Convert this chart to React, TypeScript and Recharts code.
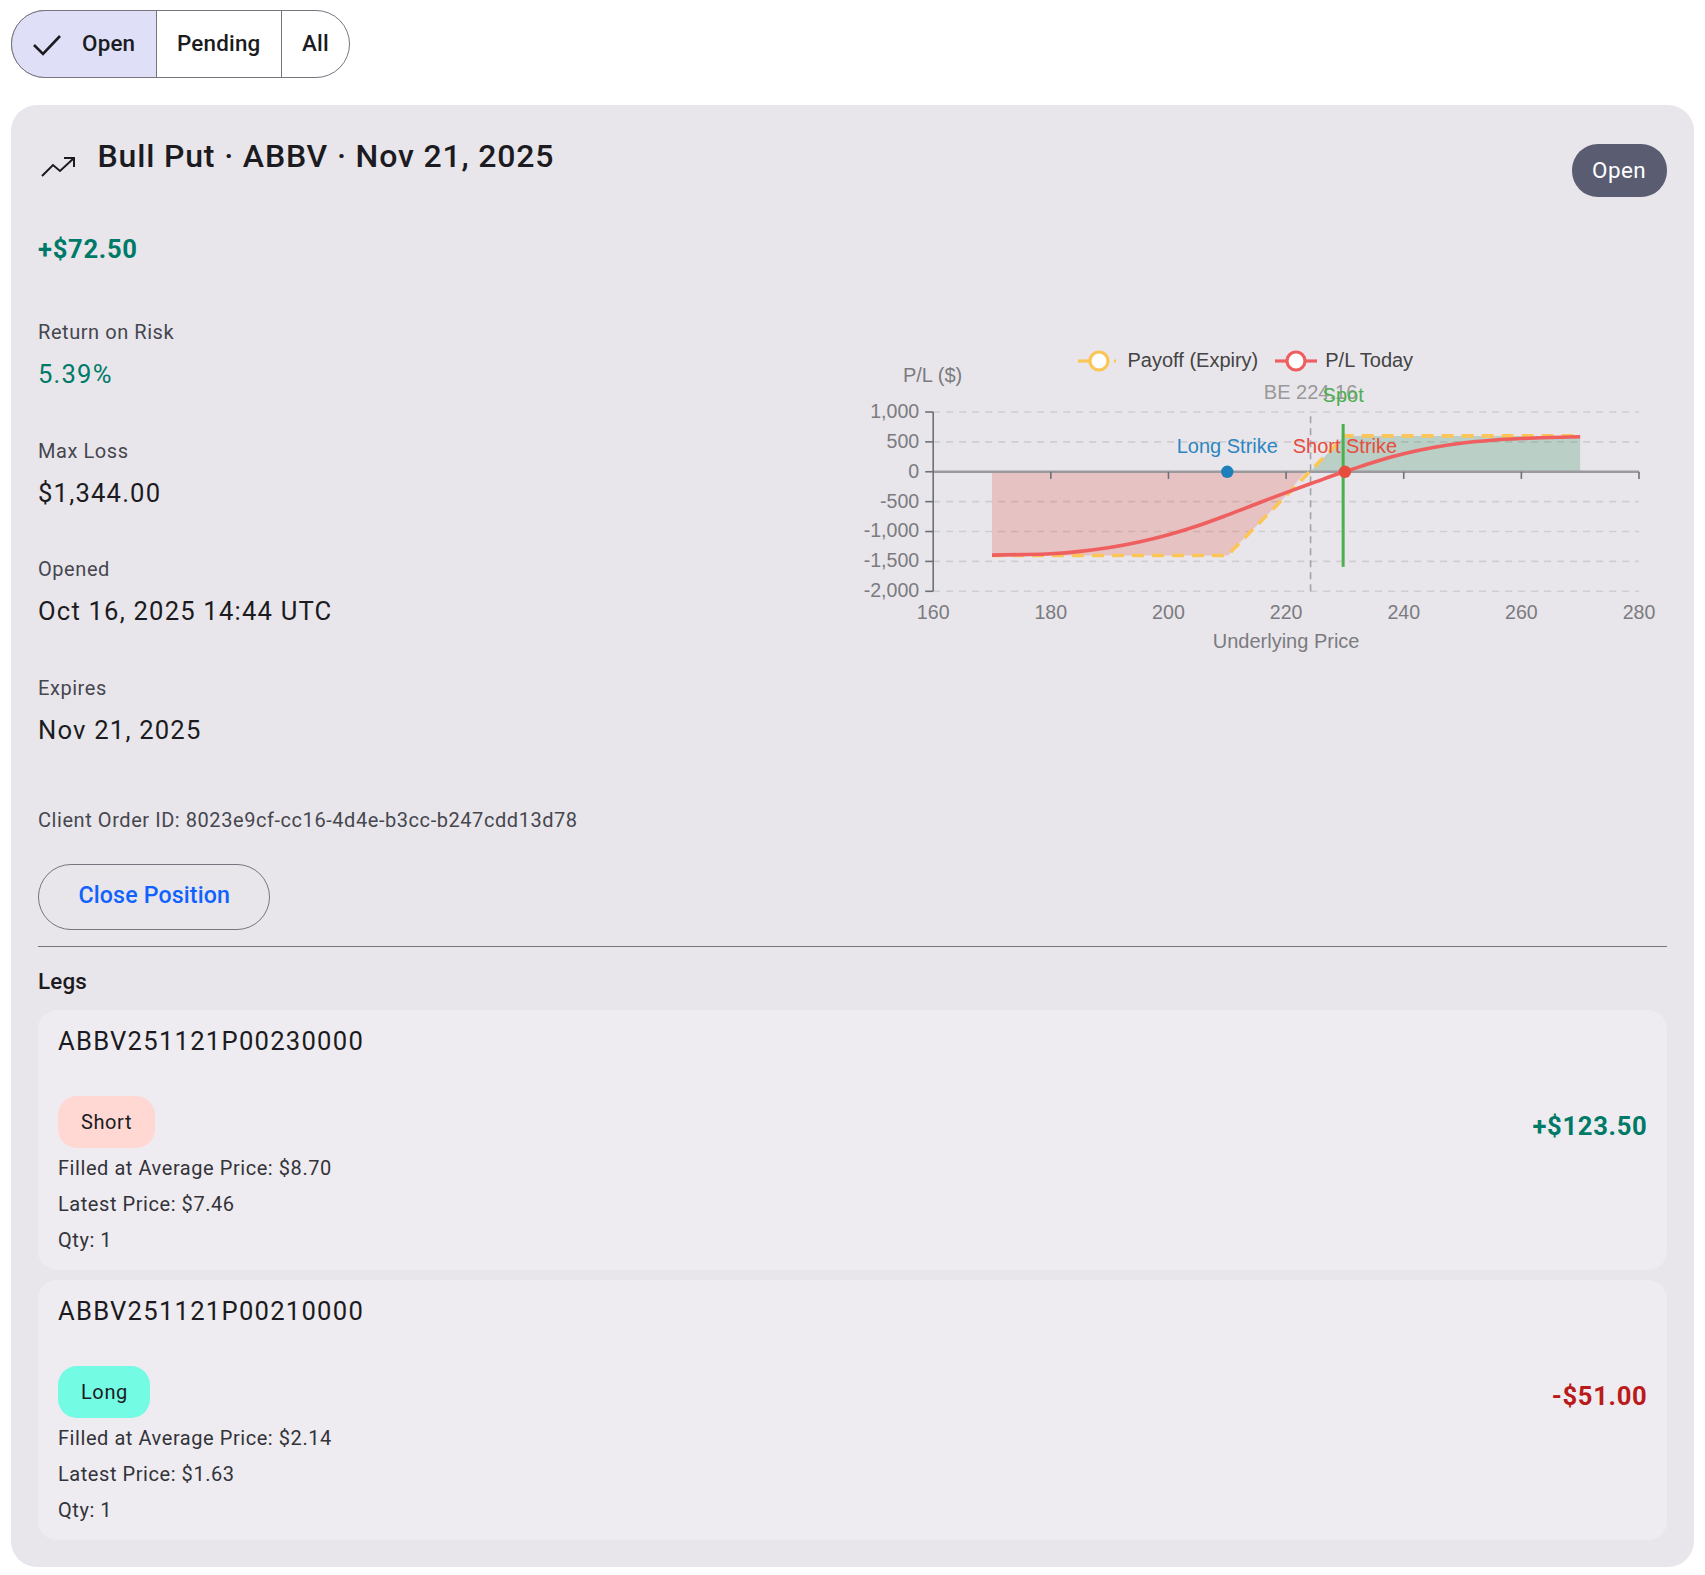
import {
  ComposedChart,
  Area,
  Line,
  XAxis,
  YAxis,
  CartesianGrid,
  Legend,
  ReferenceLine,
  ReferenceDot,
} from "recharts";

const prices = [170, 175, 180, 185, 190, 195, 200, 205, 210, 211, 215, 220, 224, 225, 229, 230, 231, 235, 240, 245, 250, 255, 260, 265, 270];
const payoff = [-1400, -1400, -1400, -1400, -1400, -1400, -1400, -1400, -1400, -1300, -900, -400, 0, 100, 500, 600, 600, 600, 600, 600, 600, 600, 600, 600, 600];
const plToday = [-1394, -1386, -1372, -1332, -1268, -1175, -1054, -903, -725, -688, -535, -348, -205, -170, -30, 0, 33, 165, 300, 405, 480, 528, 556, 573, 585];
const xTicks = [160, 180, 200, 220, 240, 260, 280];
const yTicks = [-2000, -1500, -1000, -500, 0, 500, 1000];
const zeroAxisTicks = [180, 200, 220, 240, 260, 280];

const chartData = prices.map((price, i) => ({
  price,
  payoff: payoff[i],
  plToday: plToday[i],
  loss: Math.min(payoff[i], 0),
  gain: Math.max(payoff[i], 0),
}));

const AXIS = "#6e7079";
const LABEL = "#7b7b80";
const YELLOW = "#fcc558";
const RED = "#ef5f60";

function T({ x, y, size = 20, weight = 400, color = "#1b1b21", track = 0.56, right, children }: any) {
  return (
    <div
      style={{
        position: "absolute",
        left: right === undefined ? x : undefined,
        right: right,
        top: y,
        transform: "translateY(-50%)",
        fontSize: size,
        fontWeight: weight,
        color,
        letterSpacing: track,
        lineHeight: 1,
        whiteSpace: "nowrap",
      }}
    >
      {children}
    </div>
  );
}

function Box({ x, y, w, h, bg, radius = 0, border, children }: any) {
  return (
    <div
      style={{
        position: "absolute",
        left: x,
        top: y,
        width: w,
        height: h,
        background: bg,
        borderRadius: radius,
        border,
        boxSizing: "border-box",
      }}
    >
      {children}
    </div>
  );
}

function LegendIcon({ color, dashed }: { color: string; dashed?: boolean }) {
  return (
    <svg width={42} height={24} style={{ display: "block", flex: "none" }}>
      <line x1={0} y1={12} x2={12} y2={12} stroke={color} strokeWidth={3.2} />
      {dashed ? (
        <line x1={36} y1={12} x2={38} y2={12} stroke={color} strokeWidth={3.2} />
      ) : (
        <line x1={30} y1={12} x2={42} y2={12} stroke={color} strokeWidth={3.2} />
      )}
      <circle cx={21} cy={12} r={9} fill="#fff" stroke={color} strokeWidth={3.2} />
    </svg>
  );
}

// only the two lines go in the legend, payoff first
const legendKeys = ["payoff", "plToday"];

function renderLegend({ payload }: any) {
  const items = legendKeys.map((k) => (payload || []).find((e: any) => e.dataKey === k)).filter(Boolean);
  return (
    <div style={{ display: "flex", alignItems: "center", fontSize: 20, color: "#444", whiteSpace: "nowrap" }}>
      {items.map((entry: any) => (
        <div key={entry.value} style={{ display: "flex", alignItems: "center", marginRight: 17 }}>
          <LegendIcon color={entry.color} dashed={entry.dataKey === "payoff"} />
          <span style={{ marginLeft: 8 }}>{entry.value}</span>
        </div>
      ))}
    </div>
  );
}

function PayoffChart() {
  return (
    <div style={{ position: "absolute", left: 840, top: 340, fontFamily: "'Liberation Sans', sans-serif" }}>
      <ComposedChart width={840} height={320} data={chartData} margin={{ top: 72, right: 41, bottom: 0, left: 0 }}>
        <CartesianGrid horizontal vertical={false} stroke="#cfcdd1" strokeWidth={1.6} strokeDasharray="7 6" />
        <XAxis
          dataKey="price"
          type="number"
          domain={[160, 280]}
          ticks={xTicks}
          axisLine={false}
          tickLine={false}
          tickMargin={8}
          height={68.7}
          tick={{ fill: LABEL, fontSize: 19.6 }}
          label={{ value: "Underlying Price", position: "insideBottom", offset: 12, fill: LABEL, fontSize: 20 }}
        />
        <YAxis
          type="number"
          domain={[-2000, 1000]}
          ticks={yTicks}
          width={93.2}
          stroke={AXIS}
          strokeWidth={1.6}
          tickSize={8}
          tickMargin={6}
          tick={{ fill: LABEL, fontSize: 19.6, dy: -1 }}
          tickFormatter={(v: number) => v.toLocaleString("en-US")}
          label={{ value: "P/L ($)", position: "top", dx: 46, offset: 30, fill: LABEL, fontSize: 20 }}
        />
        <Area dataKey="loss" type="monotone" baseValue={0} stroke="none" fill="#e53020" fillOpacity={0.2} legendType="none" isAnimationActive={false} />
        <Area dataKey="gain" type="monotone" baseValue={0} stroke="none" fill="#2e8b57" fillOpacity={0.25} legendType="none" isAnimationActive={false} />
        <ReferenceLine y={0} stroke="#9c9a9f" strokeWidth={2.6} />
        {zeroAxisTicks.map((t) => (
          <ReferenceLine key={t} segment={[{ x: t, y: 0 }, { x: t, y: -120 }]} stroke={AXIS} strokeWidth={1.6} />
        ))}
        <ReferenceLine
          x={224.16}
          stroke="#a3a2a6"
          strokeWidth={1.6}
          strokeDasharray="7 5"
          label={{ value: "BE 224.16", position: "top", offset: 13, fill: "#999", fontSize: 20 }}
        />
        <Line dataKey="payoff" name="Payoff (Expiry)" type="monotone" stroke={YELLOW} strokeWidth={3.6} strokeDasharray="12 8" dot={false} isAnimationActive={false} />
        <Line dataKey="plToday" name="P/L Today" type="monotone" stroke={RED} strokeWidth={3.6} dot={false} isAnimationActive={false} />
        <ReferenceLine
          segment={[{ x: 229.7, y: -1590 }, { x: 229.7, y: 800 }]}
          stroke="#4caf50"
          strokeWidth={3}
          label={{ value: "Spot", position: "top", offset: 22, fill: "#4caf50", fontSize: 20 }}
        />
        <ReferenceDot x={210} y={0} r={6.2} fill="#1f7fbb" stroke="none" label={{ value: "Long Strike", position: "top", offset: 13, fill: "#2c86c0", fontSize: 20 }} />
        <ReferenceDot x={230} y={0} r={6.2} fill="#e74c3c" stroke="none" label={{ value: "Short Strike", position: "top", offset: 13, fill: "#e74c3c", fontSize: 20 }} />
        <Legend
          layout="horizontal"
          verticalAlign="middle"
          align="center"
          content={renderLegend}
          wrapperStyle={{ left: 237.5, top: 8.5, width: 400, bottom: "auto" }}
        />
      </ComposedChart>
    </div>
  );
}

function LegCard({ y, symbol, side, badge, badgeW, filled, latest, pl, plColor }: any) {
  return (
    <>
      <Box x={38} y={y} w={1629} h={260} bg="#eeecf0" radius={19} />
      <T x={58} y={y + 32} size={25.6} track={1.26}>{symbol}</T>
      <Box x={58} y={y + 86} w={badgeW} h={52} bg={badge} radius={19} />
      <T x={81} y={y + 111.5} size={20} track={0.6}>{side}</T>
      <T x={58} y={y + 158} color="#33333a">Filled at Average Price: {filled}</T>
      <T x={58} y={y + 194} color="#33333a">Latest Price: {latest}</T>
      <T x={58} y={y + 230} color="#33333a">Qty: 1</T>
      <T right={1705 - 1647.5} y={y + 116.5} size={25.6} weight={700} track={0.7} color={plColor}>{pl}</T>
    </>
  );
}

export default function App() {
  return (
    <div style={{ position: "absolute", left: 0, top: 0, width: 1705, height: 1575, background: "#fff", fontFamily: "Roboto, sans-serif", overflow: "hidden" }}>
      {/* filter buttons */}
      <Box x={11} y={10} w={339} h={68} bg="#fff" radius={34} border="1.6px solid #75757f" />
      <div style={{ position: "absolute", left: 11, top: 10, width: 146, height: 68, background: "#dfe0f7", borderRadius: "34px 0 0 34px", border: "1.6px solid #75757f", boxSizing: "border-box" }} />
      <Box x={281} y={11} w={1.2} h={66} bg="#75757f" />
      <svg style={{ position: "absolute", left: 30, top: 30 }} width={34} height={30}>
        <path d="M4 15 L13 24 L30 6" fill="none" stroke="#1b1b21" strokeWidth={2.6} />
      </svg>
      <T x={82} y={43} size={22.4} weight={500} track={0.2}>Open</T>
      <T x={177} y={43} size={22.4} weight={500} track={0.2}>Pending</T>
      <T x={302} y={43} size={22.4} weight={500} track={0.2}>All</T>

      {/* position card */}
      <Box x={11} y={105} w={1683} h={1462} bg="#e8e6eb" radius={26} />
      <svg style={{ position: "absolute", left: 40, top: 154 }} width={38} height={26}>
        <path d="M2 22 L13 11 L20 17 L34 4 M24 4 L34 4 L34 13" fill="none" stroke="#1b1b21" strokeWidth={2} />
      </svg>
      <T x={97.5} y={156} size={32} weight={500} track={0.84}>Bull Put · ABBV · Nov 21, 2025</T>
      <Box x={1572} y={144} w={95} h={53} bg="#5a5d72" radius={26} />
      <T x={1592} y={170} size={22.4} track={0.5} color="#fff">Open</T>

      <T x={38} y={250} size={25.6} weight={700} track={0.7} color="#007a68">+$72.50</T>
      <T x={38} y={332} color="#46464f">Return on Risk</T>
      <T x={38} y={375} size={25.6} track={1.2} color="#007a68">5.39%</T>
      <T x={38} y={451} color="#46464f">Max Loss</T>
      <T x={38} y={494} size={25.6} track={1.2}>$1,344.00</T>
      <T x={38} y={569} color="#46464f">Opened</T>
      <T x={38} y={612} size={25.6} track={1.2}>Oct 16, 2025 14:44 UTC</T>
      <T x={38} y={688} color="#46464f">Expires</T>
      <T x={38} y={731} size={25.6} track={1.2}>Nov 21, 2025</T>
      <T x={38} y={820} color="#46464f">Client Order ID: 8023e9cf-cc16-4d4e-b3cc-b247cdd13d78</T>

      <Box x={38} y={864} w={232} h={66} radius={33} border="1.6px solid #75757f" />
      <T x={78.5} y={896} size={23.2} weight={500} track={0.14} color="#0f62fe">Close Position</T>
      <Box x={38} y={945.5} w={1629} h={1.4} bg="#75757f" />
      <T x={38} y={981} size={22.4} weight={500} track={0.16}>Legs</T>

      <LegCard y={1010} symbol="ABBV251121P00230000" side="Short" badge="#ffd8d4" badgeW={97} filled="$8.70" latest="$7.46" pl="+$123.50" plColor="#007a68" />
      <LegCard y={1280} symbol="ABBV251121P00210000" side="Long" badge="#73fbe3" badgeW={92} filled="$2.14" latest="$1.63" pl="-$51.00" plColor="#ba1a1a" />

      <PayoffChart />
    </div>
  );
}
